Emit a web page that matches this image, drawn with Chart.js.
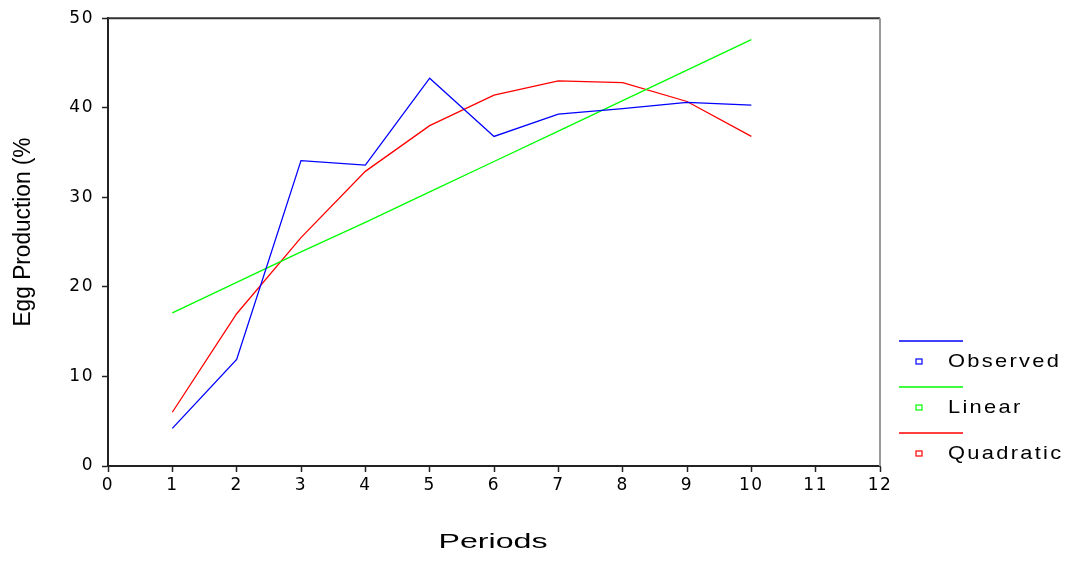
<!DOCTYPE html>
<html>
<head>
<meta charset="utf-8">
<script src="https://cdn.jsdelivr.net/npm/chart.js@4.4.1/dist/chart.umd.min.js"></script>
<style>
    html, body { margin: 0; padding: 0; background: #fff; }
    #wrap { width: 1076px; height: 561px; position: relative; }
</style>
</head>
<body>
<div id="wrap"><canvas id="chart" width="1076" height="561"></canvas></div>
<script>
// periods and the three series
const periods = [1, 2, 3, 4, 5, 6, 7, 8, 9, 10];
const observed = [4.2, 11.9, 34.1, 33.6, 43.3, 36.8, 39.3, 39.9, 40.6, 40.3];
const linear = [17.1, 20.5, 23.9, 27.2, 30.6, 34.0, 37.4, 40.8, 44.2, 47.6];
const quadratic = [6.0, 17.0, 25.5, 32.9, 38.0, 41.4, 43.0, 42.8, 40.7, 36.8];

const seriesNames = ['Observed', 'Linear', 'Quadratic'];
const seriesColors = ['#0000ff', '#00ff00', '#ff0000'];
const xTitle = 'Periods';
const yTitle = 'Egg Production (%';

const AREA = { left: 108, top: 16, right: 880, bottom: 466 };
const FONT = '"DejaVu Sans", Verdana, sans-serif';
const ARIAL = '"Liberation Sans", Arial, sans-serif';

function toPoints(values) {
    return periods.map((p, i) => ({ x: p, y: values[i] }));
}

// text stretched sideways, the original picture is wide
function wideText(ctx, text, x, y, sx) {
    ctx.save();
    ctx.translate(x, y);
    ctx.scale(sx, 1);
    ctx.fillText(text, 0, 0);
    ctx.restore();
}

const framePlugin = {
    id: 'frame',
    beforeDraw(chart) {
        chart.ctx.letterSpacing = '1.5px';
    },
    afterDraw(chart) {
        const ctx = chart.ctx;
        const a = chart.chartArea;
        ctx.save();
        ctx.letterSpacing = '0px';
        ctx.strokeStyle = '#333';
        ctx.lineWidth = 2;
        ctx.beginPath();
        ctx.moveTo(a.left, a.top);
        ctx.lineTo(a.right, a.top);
        ctx.stroke();
        ctx.strokeStyle = '#999';
        ctx.beginPath();
        ctx.moveTo(a.right, a.top);
        ctx.lineTo(a.right, a.bottom);
        ctx.stroke();

        ctx.fillStyle = '#000';
        ctx.textAlign = 'left';
        ctx.textBaseline = 'middle';

        // x title
        ctx.font = '20px ' + ARIAL;
        const xw = ctx.measureText(xTitle).width;
        wideText(ctx, xTitle, 493 - 109 / 2, 542, 109 / xw);

        // y title, squeezed
        ctx.save();
        ctx.font = '23px ' + ARIAL;
        ctx.textAlign = 'center';
        const w = ctx.measureText(yTitle).width;
        ctx.translate(24, 232);
        ctx.rotate(-Math.PI / 2);
        ctx.scale(189 / w, 1);
        ctx.fillText(yTitle, 0, 0);
        ctx.restore();

        // legend
        ctx.font = '19px ' + ARIAL;
        ctx.letterSpacing = '2px';
        seriesNames.forEach((name, i) => {
            const y = 341 + i * 46;
            ctx.strokeStyle = seriesColors[i];
            ctx.lineWidth = 1.5;
            ctx.beginPath();
            ctx.moveTo(899, y);
            ctx.lineTo(963, y);
            ctx.stroke();
            ctx.lineWidth = 1.2;
            ctx.strokeRect(916, y + 18, 6, 5);
            wideText(ctx, name, 948, y + 21, 1.15);
        });
        ctx.restore();
        ctx.letterSpacing = '0px';
    }
};

const ctx = document.getElementById('chart').getContext('2d');
const chart = new Chart(ctx, {
    type: 'line',
    data: {
        datasets: [observed, linear, quadratic].map((vals, i) => ({
            label: seriesNames[i],
            data: toPoints(vals),
            borderColor: seriesColors[i],
            borderWidth: 1.3,
            pointRadius: 0,
            tension: 0,
            fill: false
        }))
    },
    options: {
        responsive: false,
        animation: false,
        layout: { padding: { top: AREA.top, right: 1076 - AREA.right, left: 0, bottom: 0 } },
        plugins: { legend: { display: false }, tooltip: { enabled: false } },
        scales: {
            x: {
                type: 'linear',
                min: 0,
                max: 12,
                ticks: {
                    stepSize: 1,
                    color: '#000',
                    padding: 3,
                    font: { family: FONT, size: 17 }
                },
                grid: { drawOnChartArea: false, tickLength: 6, color: '#222', tickWidth: 1.5 },
                border: { color: '#222', width: 2 },
                afterFit(scale) { scale.height = 561 - AREA.bottom; }
            },
            y: {
                min: 0,
                max: 50,
                ticks: {
                    stepSize: 10,
                    color: '#000',
                    padding: 8,
                    font: { family: FONT, size: 17 }
                },
                grid: { drawOnChartArea: false, tickLength: 6, color: '#222', tickWidth: 1.5 },
                border: { color: '#222', width: 2 },
                afterFit(scale) { scale.width = AREA.left; }
            }
        }
    },
    plugins: [framePlugin]
});
</script>
</body>
</html>
